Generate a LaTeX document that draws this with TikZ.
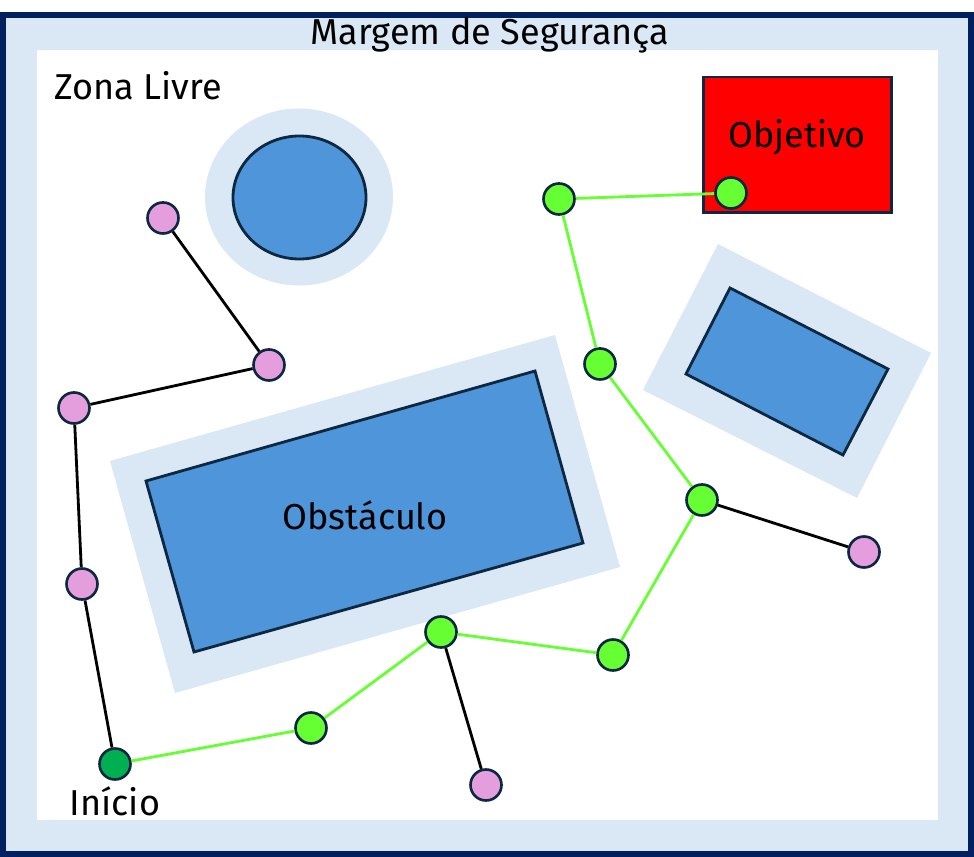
\documentclass[tikz,border=0pt]{standalone}
\usepackage{fontspec}
\setmainfont{Fira Sans}
\usepackage{xcolor}
\definecolor{mapNavy}{HTML}{002060}
\definecolor{mapHalo}{HTML}{DAE8F5}
\definecolor{mapObst}{HTML}{4E95D9}
\definecolor{mapEdge}{HTML}{0E2841}
\definecolor{mapGoal}{HTML}{FF0000}
\definecolor{mapPath}{HTML}{66FF33}
\definecolor{mapStart}{HTML}{00B050}
\definecolor{mapPink}{HTML}{E59EDD}
\usepackage{tikz}
\usetikzlibrary{calc}
\tikzset{
  maplabel/.style={font=\fontsize{20.5}{24}\selectfont,text=black,inner sep=0pt},
  obstacle/.style={draw=mapEdge,fill=mapObst,line width=1.6pt},
  halo/.style={fill=mapHalo,draw=none},
  goalbox/.style={rectangle,draw=mapEdge,fill=mapGoal,line width=1.7pt,minimum width=3.78cm,minimum height=2.72cm,inner sep=0pt},
  vtx/.style={circle,draw=mapEdge,line width=1.5pt,minimum size=0.62cm,inner sep=0pt},
  pathvtx/.style={vtx,fill=mapPath},
  deadvtx/.style={vtx,fill=mapPink},
  startvtx/.style={vtx,fill=mapStart},
  pathedge/.style={draw=mapPath,line width=1.6pt},
  treeedge/.style={draw=black,line width=1.6pt},
}

\begin{document}
\begin{tikzpicture}[x=0.02cm,y=-0.02cm]
  \useasboundingbox (0,0) rectangle (974,857);

  % frame: navy border, safety margin, free zone
  \fill[mapNavy] (0,12) rectangle (974,857);
  \fill[mapHalo] (6,18) rectangle (968,851);
  \fill[white] (37,50) rectangle (938,820);
  \node[maplabel] (margem) at (490,35) {Margem de Segurança};
  \node[maplabel, anchor=west] (livre) at (54,86) {Zona Livre};

  % obstacles with their margins
  \fill[halo] (299,197) ellipse [x radius=94, y radius=88.5];
  \draw[obstacle] (299.5,197.5) ellipse [x radius=66.5, y radius=61.5];

  \fill[halo] (110,461) -- (555,335) -- (620,567) -- (175,693) -- cycle;
  \draw[obstacle] (146,481) -- (535,371) -- (583,543) -- (194,652) -- cycle;
  \node[maplabel] (obst) at (365,515) {Obstáculo};

  \fill[halo] (718,244) -- (931,353) -- (857,498) -- (643,390) -- cycle;
  \draw[obstacle] (730,288) -- (888,369) -- (843,455) -- (686,374) -- cycle;

  % goal
  \node[goalbox] (objetivo) at (797.5,145) {};
  \node[maplabel] (objtxt) at (797,137) {Objetivo};

  % tree vertices
  \node[startvtx] (s) at (115,764) {};
  \node[maplabel] (inicio) at (115,801) {Início};

  \node[deadvtx] (p1) at (163,218) {};
  \node[deadvtx] (p2) at (269,365) {};
  \node[deadvtx] (p3) at (74,408) {};
  \node[deadvtx] (p4) at (82,584) {};
  \node[deadvtx] (p5) at (486,785) {};
  \node[deadvtx] (p6) at (864,552) {};

  \node[pathvtx] (g1) at (311,728) {};
  \node[pathvtx] (g2) at (441,632) {};
  \node[pathvtx] (g3) at (613,655) {};
  \node[pathvtx] (g4) at (702,500) {};
  \node[pathvtx] (g5) at (600,364) {};
  \node[pathvtx] (g6) at (559,199) {};
  \node[pathvtx] (g7) at (731,193) {};

  % edges
  \draw[treeedge] (p1) -- (p2);
  \draw[treeedge] (p2) -- (p3);
  \draw[treeedge] (p3) -- (p4);
  \draw[treeedge] (p4) -- (s);
  \draw[treeedge] (g2) -- (p5);
  \draw[treeedge] (g4) -- (p6);

  \draw[pathedge] (s) -- (g1);
  \draw[pathedge] (g1) -- (g2);
  \draw[pathedge] (g2) -- (g3);
  \draw[pathedge] (g3) -- (g4);
  \draw[pathedge] (g4) -- (g5);
  \draw[pathedge] (g5) -- (g6);
  \draw[pathedge] (g6) -- (g7);
\end{tikzpicture}
\end{document}
